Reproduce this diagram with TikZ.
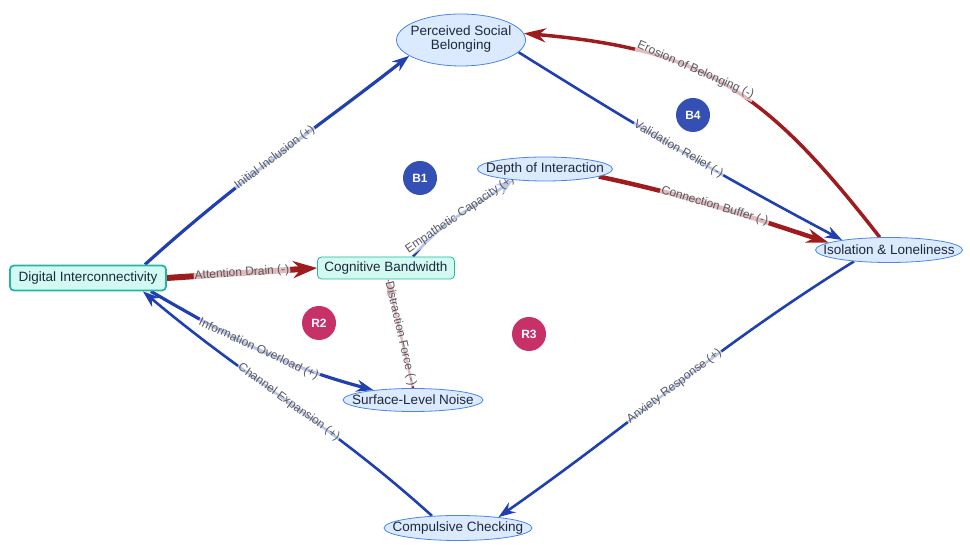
\documentclass[tikz,border=0pt]{standalone}
\usepackage{fontspec}
\setmainfont{Liberation Sans}
\usetikzlibrary{arrows.meta,shapes.geometric,backgrounds}

\definecolor{linkblue}{RGB}{32,64,176}
\definecolor{linkred}{RGB}{158,27,30}
\definecolor{bubblefill}{RGB}{219,234,254}
\definecolor{bubbleline}{RGB}{74,134,232}
\definecolor{tealfill}{RGB}{210,250,242}
\definecolor{tealline}{RGB}{38,180,160}
\definecolor{loopblue}{RGB}{52,80,180}
\definecolor{loopred}{RGB}{200,48,104}
\definecolor{inktext}{RGB}{30,41,59}
\definecolor{labeltext}{RGB}{88,90,100}

\newcommand{\nowidth}[1]{\makebox[0pt]{#1}}

\begin{document}
\begin{tikzpicture}[x=1pt, y=1pt,
  every node/.style={font=\fontsize{13.5}{14}\selectfont, text=inktext},
  var/.style={ellipse, draw=bubbleline, fill=bubblefill, inner sep=0pt, line width=0.8pt},
  hub/.style={rectangle, rounded corners=4pt, draw=tealline, fill=tealfill, inner xsep=0pt},
  badge/.style={circle, fill=#1, inner sep=0pt, minimum size=34pt, text=white,
    font=\fontsize{12}{14}\selectfont\bfseries},
  pos link/.style={draw=linkblue, line width=#1, -{Stealth[length=17pt,width=12pt]}},
  neg link/.style={draw=linkred, line width=#1, -{Stealth[length=22pt,width=14pt]}},
  lbl/.style={sloped, midway, fill=white, fill opacity=0.7, text opacity=1, inner sep=1pt,
    text=labeltext, font=\fontsize{12}{14}\selectfont}
]
  \useasboundingbox (0,0) rectangle (970,554);

  % variables
  \node [hub, line width=1.8pt, minimum width=156pt, minimum height=25pt](DI) at (88,276) {Digital Interconnectivity};
  \node [hub, line width=0.8pt, minimum width=137pt, minimum height=22pt](CB) at (386,286) {Cognitive Bandwidth};
  \node [var, minimum width=129pt, minimum height=52pt](PSB) at (461,514)
    {\nowidth{\begin{tabular}{@{}c@{}}Perceived Social\\Belonging\end{tabular}}};
  \node [var, minimum width=135pt, minimum height=24pt](DoI) at (545,385) {\nowidth{Depth of Interaction}};
  \node [var, minimum width=147pt, minimum height=25pt](IL) at (889,304) {\nowidth{Isolation \& Loneliness}};
  \node [var, minimum width=140pt, minimum height=23pt](SLN) at (413,154) {\nowidth{Surface-Level Noise}};
  \node [var, minimum width=148pt, minimum height=25pt](CC) at (458,26) {\nowidth{Compulsive Checking}};

  % loop markers
  \node [badge=loopblue](B1) at (420,376) {B1};
  \node [badge=loopblue](B4) at (693,439) {B4};
  \node [badge=loopred](R2) at (319,231) {R2};
  \node [badge=loopred](R3) at (529,220) {R3};

  \begin{scope}[on background layer]
    \draw [pos link=3.2pt] ([xshift=-22pt]DI.north east) to[out=42, in=218]
      node[lbl] {Initial Inclusion (+)} (PSB.197);
    \draw [pos link=2.6pt] (PSB.348) to[out=-32, in=152]
      node[lbl] {Validation Relief (-)} (IL.168);
    \draw [neg link=3.5pt] (IL.126) to[out=128, in=-5, looseness=1.15]
      node[lbl, pos=0.6] {Erosion of Belonging (-)} (PSB.6);
    \draw [neg link=4.5pt] (DoI.352) to[out=-12, in=162]
      node[lbl] {Connection Buffer (-)} (IL.173);
    \draw [pos link=2.6pt] ([xshift=27pt]CB.north) to[out=50, in=215]
      node[lbl] {Empathetic Capacity (+)} (DoI.199);
    \draw [neg link=6pt, -{Stealth[length=24pt,width=17pt]}] (DI.east) --
      node[lbl] {Attention Drain (-)} (CB.west);
    \draw [neg link=2.4pt, -{Stealth[length=16pt,width=10pt]}] (SLN.north) --
      node[lbl] {Distraction Force (-)} ([xshift=2pt]CB.south);
    \draw [pos link=3.2pt] ([xshift=-16pt]DI.south east) to[out=-30, in=165]
      node[lbl] {Information Overload (+)} (SLN.166);
    \draw [pos link=2.6pt] (CC.155) to[out=138, in=-40]
      node[lbl] {Channel Expansion (+)} ([xshift=-24pt]DI.south east);
    \draw [pos link=2.6pt] (IL.198) to[out=212, in=35]
      node[lbl] {Anxiety Response (+)} (CC.15);
  \end{scope}
\end{tikzpicture}
\end{document}
